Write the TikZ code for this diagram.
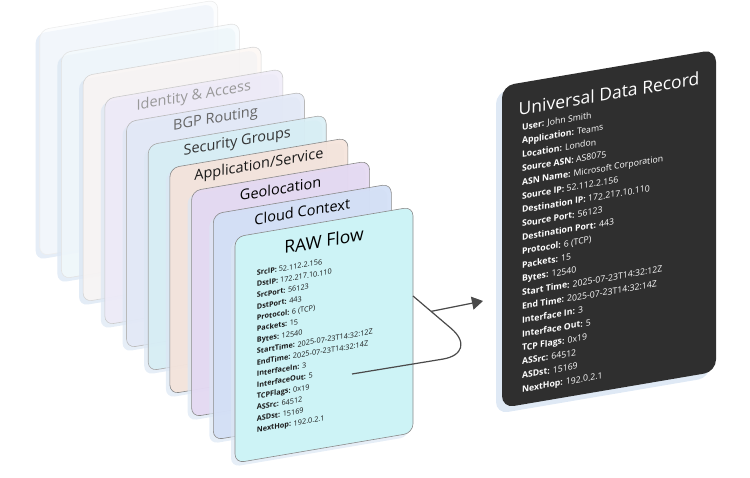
\documentclass[tikz,border=0pt]{standalone}
\usepackage{fontspec}
\setmainfont{Open Sans}
\usepackage{tikz}
\usetikzlibrary{positioning, shadows, calc, arrows.meta}

\definecolor{rawcyan}{HTML}{CDF3F6}
\definecolor{cloudblue}{HTML}{D3DFF6}
\definecolor{geolilac}{HTML}{E4D8F2}
\definecolor{apppeach}{HTML}{F5E3DA}
\definecolor{secgrpcyan}{HTML}{D7EEF5}
\definecolor{bgpblue}{HTML}{E3E9F7}
\definecolor{identlilac}{HTML}{EFEBF8}
\definecolor{ghostpeach}{HTML}{FCF6F3}
\definecolor{ghostcyan}{HTML}{F5FBFD}
\definecolor{ghostwhite}{HTML}{FAFCFE}
\definecolor{cardedge}{HTML}{8A8A8A}
\definecolor{shadowblue}{HTML}{DCE7F4}
\definecolor{recorddark}{HTML}{2F2F2F}
\definecolor{linkgray}{HTML}{4A4A4A}

\tikzstyle{layer} = [draw=cardedge, line width=0.6pt, rounded corners=9pt,
    transform shape, inner sep=0pt,
    minimum width=178pt, minimum height=226pt,
    drop shadow={shadow xshift=-4pt, shadow yshift=-4pt,
        fill=shadowblue, opacity=0.7}]
\tikzstyle{layertitle} = [transform shape, inner sep=0pt,
    font=\fontsize{14.5pt}{17pt}\selectfont]
\tikzstyle{fields} = [transform shape, inner sep=0pt, align=left,
    anchor=north west]
\tikzstyle{link} = [draw=linkgray, line width=1.2pt]

\begin{document}
\begin{tikzpicture}[x=1pt, y=-1pt]

    \useasboundingbox (0,0) rectangle (750,478);

    \begin{scope}[yslant=0.17]

        \node[
            layer,
            draw=cardedge!15,
            fill=ghostwhite,
            fill opacity=0.6,
            drop shadow={opacity=0.15, shadow xshift=-4pt, shadow yshift=-4pt, fill=shadowblue}
        ](ghostc) at (128.7,149.7) {};

        \node[
            layer,
            draw=cardedge!25,
            fill=ghostcyan,
            fill opacity=0.7,
            drop shadow={opacity=0.2, shadow xshift=-4pt, shadow yshift=-4pt, fill=shadowblue}
        ](ghostb) at (150.4,176.4) {};

        \node[
            layer,
            draw=cardedge!35,
            fill=ghostpeach,
            fill opacity=0.8,
            drop shadow={opacity=0.3, shadow xshift=-4pt, shadow yshift=-4pt, fill=shadowblue}
        ](ghosta) at (172.1,203.1) {};

        \node[
            layer,
            draw=cardedge!45,
            fill=identlilac,
            fill opacity=0.85
        ](identity) at (193.8,229.8) {};

        \node[
            layer,
            draw=cardedge!60,
            fill=bgpblue,
            fill opacity=0.85
        ](bgp) at (215.5,256.5) {};

        \node[
            layer,
            draw=cardedge!75,
            fill=secgrpcyan,
            fill opacity=0.88
        ](secgrp) at (237.2,283.2) {};

        \node[
            layer,
            fill=apppeach,
            fill opacity=0.9
        ](app) at (258.9,309.9) {};

        \node[
            layer,
            fill=geolilac,
            fill opacity=0.9
        ](geo) at (280.6,336.6) {};

        \node[
            layer,
            fill=cloudblue,
            fill opacity=0.92
        ](cloud) at (302.3,363.3) {};

        \node[
            layer,
            fill=rawcyan
        ](raw) at (324,390) {};

        \node[layertitle, text=black!40] at ($(identity.north)+(0,13)$) {Identity \& Access};
        \node[layertitle, text=black!60] at ($(bgp.north)+(0,13)$) {BGP Routing};
        \node[layertitle, text=black!80] at ($(secgrp.north)+(0,13)$) {Security Groups};
        \node[layertitle, text=black!90] at ($(app.north)+(0,13)$) {Application/Service};
        \node[layertitle, text=black] at ($(geo.north)+(0,13)$) {Geolocation};
        \node[layertitle, text=black] at ($(cloud.north)+(0,13)$) {Cloud Context};

        \node[
            layertitle,
            font=\fontsize{17.5pt}{20pt}\selectfont
        ](rawtitle) at ($(raw.north)+(0,19)$) {RAW Flow};

        \node[
            fields,
            text=black!90,
            font=\fontsize{7.3pt}{11.2pt}\selectfont
        ](rawfields) at ($(raw.north west)+(22,37)$) {%
            \textbf{SrcIP:} 52.112.2.156\\
            \textbf{DstIP:} 172.217.10.110\\
            \textbf{SrcPort:} 56123\\
            \textbf{DstPort:} 443\\
            \textbf{Protocol:} 6 (TCP)\\
            \textbf{Packets:} 15\\
            \textbf{Bytes:} 12540\\
            \textbf{StartTime:} 2025-07-23T14:32:12Z\\
            \textbf{EndTime:} 2025-07-23T14:32:14Z\\
            \textbf{InterfaceIn:} 3\\
            \textbf{InterfaceOut:} 5\\
            \textbf{TCPFlags:} 0x19\\
            \textbf{ASSrc:} 64512\\
            \textbf{ASDst:} 15169\\
            \textbf{NextHop:} 192.0.2.1};

        \node[
            transform shape,
            fill=recorddark,
            rounded corners=12pt,
            minimum width=214pt,
            minimum height=322pt,
            inner sep=0pt,
            drop shadow={shadow xshift=-6pt, shadow yshift=-6pt,
                fill=shadowblue, opacity=0.9}
        ](udr) at (609,332.3) {};

        \node[
            layertitle,
            text=white,
            font=\fontsize{17.5pt}{21pt}\selectfont
        ](udrtitle) at ($(udr.north)+(0,26)$) {Universal Data Record};

        \node[
            fields,
            text=white,
            font=\fontsize{8.7pt}{13.8pt}\selectfont
        ](udrfields) at ($(udr.north west)+(20,41)$) {%
            \textbf{User:} John Smith\\
            \textbf{Application:} Teams\\
            \textbf{Location:} London\\
            \textbf{Source ASN:} AS8075\\
            \textbf{ASN Name:} Microsoft Corporation\\
            \textbf{Source IP:} 52.112.2.156\\
            \textbf{Destination IP:} 172.217.10.110\\
            \textbf{Source Port:} 56123\\
            \textbf{Destination Port:} 443\\
            \textbf{Protocol:} 6 (TCP)\\
            \textbf{Packets:} 15\\
            \textbf{Bytes:} 12540\\
            \textbf{Start Time:} 2025-07-23T14:32:12Z\\
            \textbf{End Time:} 2025-07-23T14:32:14Z\\
            \textbf{Interface In:} 3\\
            \textbf{Interface Out:} 5\\
            \textbf{TCP Flags:} 0x19\\
            \textbf{ASSrc:} 64512\\
            \textbf{ASDst:} 15169\\
            \textbf{NextHop:} 192.0.2.1};

    \end{scope}

    \coordinate (tail) at (352,374);
    \coordinate (elbow) at (480,353);
    \coordinate (tuck) at (413,296);
    \coordinate (fork) at ($(tuck)!0.27!(elbow)$);
    \coordinate (udrin) at (483,301);

    \draw[link, rounded corners=38pt] (tail) -- (elbow) -- (tuck);
    \draw[link, -{Triangle[length=11pt, width=13pt]}] (fork) -- (udrin);

\end{tikzpicture}
\end{document}
